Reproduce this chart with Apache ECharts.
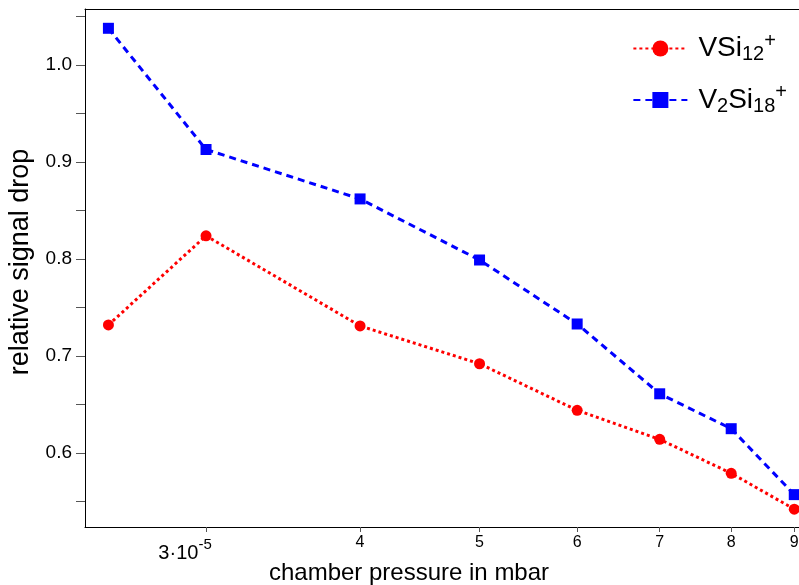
<!DOCTYPE html>
<html>
<head>
<meta charset="utf-8">
<script src="https://cdn.jsdelivr.net/npm/echarts@6/dist/echarts.min.js"></script>
<style>
  html, body { margin: 0; padding: 0; background: #fff; }
  #chart { width: 799px; height: 585px; }
</style>
</head>
<body>
<div id="chart"></div>
<script>
// chamber pressure (mbar)
const pressure = [2.5e-5, 3e-5, 4e-5, 5e-5, 6e-5, 7e-5, 8e-5, 9e-5];
// relative signal drop per cluster
const vsi12 = [0.732, 0.824, 0.731, 0.692, 0.644, 0.614, 0.579, 0.542];
const v2si18 = [1.038, 0.913, 0.862, 0.799, 0.733, 0.661, 0.625, 0.557];
// axis ticks
const xTicks = [3e-5, 4e-5, 5e-5, 6e-5, 7e-5, 8e-5, 9e-5];
const yLabels = [0.6, 0.7, 0.8, 0.9, 1.0];
const yTicks = [0.55, 0.6, 0.65, 0.7, 0.75, 0.8, 0.85, 0.9, 0.95, 1.0, 1.05];

const font = '"Liberation Sans", Arial, sans-serif';

const chart = echarts.init(document.getElementById('chart'), null, { renderer: 'canvas' });

function pairs(xs, ys) { return xs.map((x, i) => [x, ys[i]]); }

chart.setOption({
  animation: false,
  backgroundColor: '#fff',
  grid: { left: 85, top: 9, right: 0, bottom: 58, containLabel: false, outerBoundsMode: 'none' },
  legend: {
    orient: 'vertical',
    right: 7,
    top: 26,
    itemWidth: 54,
    itemHeight: 20,
    itemGap: 18,
    textStyle: {
      fontFamily: font,
      fontSize: 28,
      color: '#000',
      padding: [0, 0, 0, 6],
      rich: {
        b: { fontFamily: font, fontSize: 28, color: '#000' },
        sub: { fontFamily: font, fontSize: 20, color: '#000', padding: [12, 0, 0, 0] },
        sup: { fontFamily: font, fontSize: 20, color: '#000', padding: [0, 0, 15, 0] }
      }
    },
    formatter: function (name) {
      if (name === 'VSi12') return '{b|VSi}{sub|12}{sup|+}';
      return '{b|V}{sub|2}{b|Si}{sub|18}{sup|+}';
    },
    data: ['VSi12', 'V2Si18']
  },
  xAxis: [{
    type: 'log',
    logBase: 10,
    min: 2.393e-5,
    max: 9.08e-5,
    name: 'chamber pressure in mbar',
    nameLocation: 'middle',
    nameGap: 34,
    nameMoveOverlap: false,
    nameTextStyle: { fontFamily: font, fontSize: 24, color: '#000', padding: [0, 66, 0, 0] },
    axisLine: { show: true, lineStyle: { color: '#000', width: 1 } },
    axisTick: { show: true, inside: false, length: 5, customValues: xTicks, lineStyle: { color: '#555' } },
    minorTick: { show: false },
    splitLine: { show: false },
    minorSplitLine: { show: false },
    axisLabel: {
      customValues: xTicks,
      margin: 8,
      fontFamily: font,
      fontSize: 16,
      color: '#000',
      formatter: function (v) {
        const m = Math.round(v * 1e5);
        if (m === 3) return '{a|3·10}{s|-5}';
        return '{d|' + m + '}';
      },
      rich: {
        d: { fontFamily: font, fontSize: 16, color: '#000' },
        a: { fontFamily: font, fontSize: 20, color: '#000', padding: [8, 0, 0, 0] },
        s: { fontFamily: font, fontSize: 15, color: '#000', padding: [0, 42, 8, 0] }
      }
    }
  }, {
    type: 'value',
    position: 'top',
    axisLine: { show: true, onZero: false, lineStyle: { color: '#000', width: 1 } },
    axisTick: { show: false },
    axisLabel: { show: false },
    splitLine: { show: false }
  }],
  yAxis: {
    type: 'value',
    min: 0.5236,
    max: 1.0579,
    name: 'relative signal drop',
    nameLocation: 'middle',
    nameGap: 51,
    nameMoveOverlap: false,
    nameTextStyle: { fontFamily: font, fontSize: 27, color: '#000', padding: [0, 0, 0, 12] },
    axisLine: { show: true, onZero: false, lineStyle: { color: '#000', width: 1 } },
    axisTick: { show: true, inside: false, length: 9, customValues: yTicks, lineStyle: { color: '#555' } },
    splitLine: { show: false },
    axisLabel: {
      customValues: yLabels,
      margin: 13,
      fontFamily: font,
      fontSize: 19,
      color: '#000',
      formatter: function (v) { return v.toFixed(1); }
    }
  },
  series: [{
    name: 'VSi12',
    type: 'line',
    xAxisIndex: 0,
    data: pairs(pressure, vsi12),
    symbol: 'circle',
    symbolSize: 11,
    clip: false,
    itemStyle: { color: '#ff0000' },
    lineStyle: { color: '#ff0000', width: 3, type: [3, 3] }
  }, {
    name: 'V2Si18',
    type: 'line',
    xAxisIndex: 0,
    data: pairs(pressure, v2si18),
    symbol: 'rect',
    symbolSize: 11,
    clip: false,
    itemStyle: { color: '#0000ff' },
    lineStyle: { color: '#0000ff', width: 3, type: [7, 5] }
  }]
});
</script>
</body>
</html>
